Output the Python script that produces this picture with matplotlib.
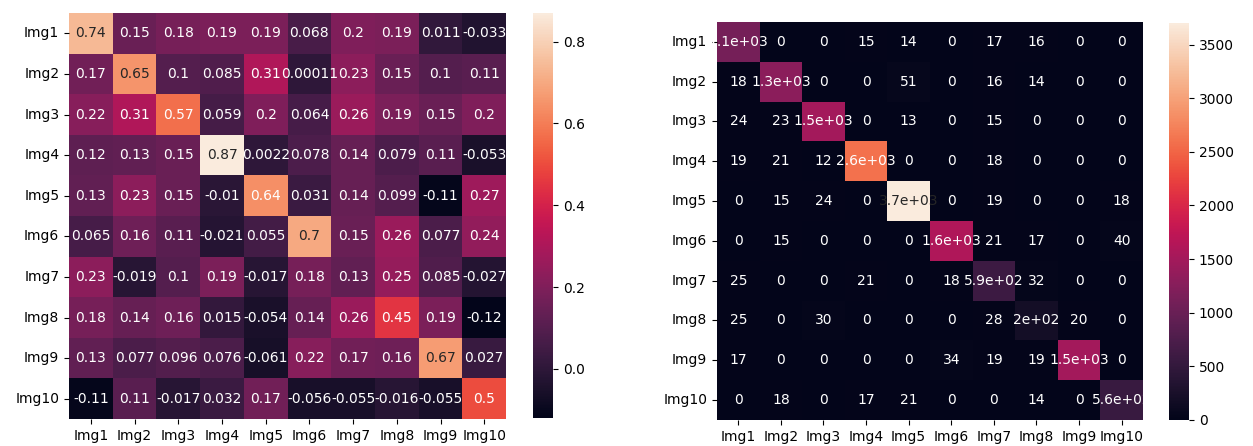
import matplotlib
matplotlib.use("Agg")
import matplotlib.pyplot as plt
import numpy as np
import seaborn as sns

labels = ["Img1", "Img2", "Img3", "Img4", "Img5", "Img6", "Img7", "Img8", "Img9", "Img10"]

# Correlation between image feature vectors
corr_rows = [
    [0.74, 0.15, 0.18, 0.19, 0.19, 0.068, 0.2, 0.19, 0.011, -0.033],
    [0.17, 0.65, 0.1, 0.085, 0.31, 0.00011, 0.23, 0.15, 0.1, 0.11],
    [0.22, 0.31, 0.57, 0.059, 0.2, 0.064, 0.26, 0.19, 0.15, 0.2],
    [0.12, 0.13, 0.15, 0.87, 0.0022, 0.078, 0.14, 0.079, 0.11, -0.053],
    [0.13, 0.23, 0.15, -0.01, 0.64, 0.031, 0.14, 0.099, -0.11, 0.27],
    [0.065, 0.16, 0.11, -0.021, 0.055, 0.7, 0.15, 0.26, 0.077, 0.24],
    [0.23, -0.019, 0.1, 0.19, -0.017, 0.18, 0.13, 0.25, 0.085, -0.027],
    [0.18, 0.14, 0.16, 0.015, -0.054, 0.14, 0.26, 0.45, 0.19, -0.12],
    [0.13, 0.077, 0.096, 0.076, -0.061, 0.22, 0.17, 0.16, 0.67, 0.027],
    [-0.11, 0.11, -0.017, 0.032, 0.17, -0.056, -0.055, -0.016, -0.055, 0.5],
]

# Match counts between images
count_rows = [
    [1100, 0, 0, 15, 14, 0, 17, 16, 0, 0],
    [18, 1300, 0, 0, 51, 0, 16, 14, 0, 0],
    [24, 23, 1500, 0, 13, 0, 15, 0, 0, 0],
    [19, 21, 12, 2600, 0, 0, 18, 0, 0, 0],
    [0, 15, 24, 0, 3700, 0, 19, 0, 0, 18],
    [0, 15, 0, 0, 0, 1600, 21, 17, 0, 40],
    [25, 0, 0, 21, 0, 18, 590, 32, 0, 0],
    [25, 0, 30, 0, 0, 0, 28, 200, 20, 0],
    [17, 0, 0, 0, 0, 34, 19, 19, 1500, 0],
    [0, 18, 0, 17, 21, 0, 0, 14, 0, 560],
]

corr = np.array(corr_rows)
counts = np.array(count_rows)

fig = plt.figure(figsize=(12.53, 4.46), dpi=100)
ax1 = fig.add_axes([0.0551, 0.0605, 0.3488, 0.9103])
cax1 = fig.add_axes([0.4254, 0.0628, 0.0160, 0.9080])
ax2 = fig.add_axes([0.5722, 0.0583, 0.3400, 0.8924])
cax2 = fig.add_axes([0.9330, 0.0583, 0.0160, 0.8900])

sns.heatmap(corr, annot=True, xticklabels=labels, yticklabels=labels,
            ax=ax1, cbar_ax=cax1)
sns.heatmap(counts, annot=True, xticklabels=labels, yticklabels=labels,
            ax=ax2, cbar_ax=cax2)

for ax in (ax1, ax2):
    ax.tick_params(axis="y", rotation=0)
    ax.tick_params(axis="x", rotation=0)

fig.savefig("out.png", dpi=100)
